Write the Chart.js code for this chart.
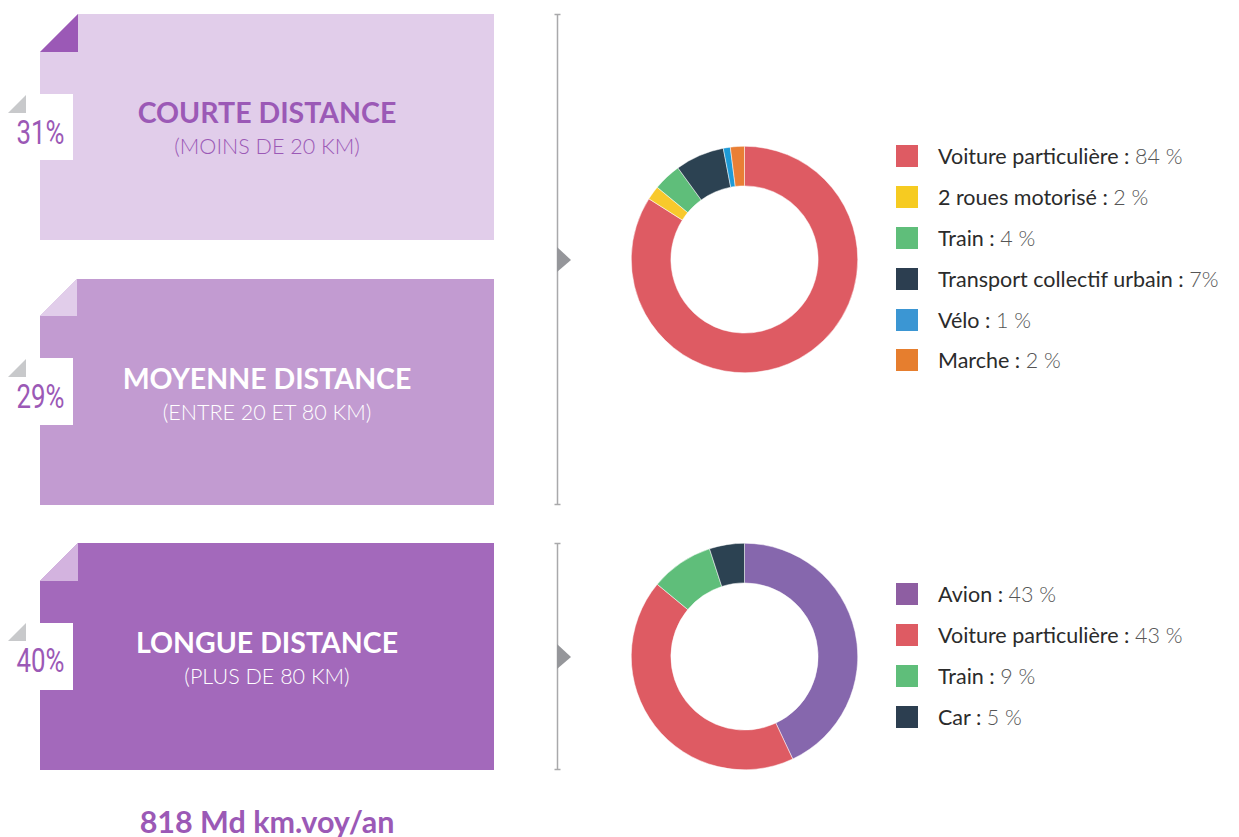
<!DOCTYPE html>
<html>
<head>
<meta charset="utf-8">
<script src="https://cdn.jsdelivr.net/npm/chart.js@4/dist/chart.umd.min.js"></script>
<style>
  html, body { margin: 0; padding: 0; background: #fff; }
  body { width: 1239px; height: 837px; position: relative; overflow: hidden; font-family: Lato, "Open Sans", sans-serif; }
  svg.deco { position: absolute; left: 0; top: 0; }
  .title { position: absolute; left: 40px; width: 454px; text-align: center; }
  .title .big { font-weight: 700; font-size: 28.5px; line-height: 32px; }
  .title .small { font-weight: 300; font-size: 21.5px; line-height: 36px; }
  .pct { position: absolute; left: 8px; width: 65px; text-align: center; color: #9b59b6;
         font-family: Roboto, sans-serif; font-weight: 400; font-size: 34px; line-height: 40px; }
  .pct span { display: inline-block; transform: scaleX(0.76); }
  .donut { position: absolute; }
  .legend { position: absolute; left: 896px; }
  .legend .row { display: flex; align-items: center; height: 40.8px; }
  .legend .sw { width: 22px; height: 22px; margin-right: 20px; }
  .legend .lab { font-size: 21.5px; color: #2b2b2b; }
  .legend .val { font-size: 21.5px; color: #555; font-weight: 300; }
  .total { position: absolute; left: 40px; width: 454px; top: 803px; text-align: center;
           color: #9b59b6; font-weight: 700; font-size: 30.5px; }
</style>
</head>
<body>
<svg class="deco" width="1239" height="837">
  <!-- courte distance -->
  <polygon points="78,14 494,14 494,240 40,240 40,52" fill="#e1cdea"/>
  <polygon points="40,52 78,14 78,52" fill="#9b59b6"/>
  <rect x="8" y="94" width="65" height="66" fill="#fff"/>
  <polygon points="8,113 26,95 26,113" fill="#c8c9cb"/>
  <!-- moyenne distance -->
  <polygon points="77,279 494,279 494,505 40,505 40,316" fill="#c29bd1"/>
  <polygon points="40,316 77,279 77,316" fill="#e1cdea"/>
  <rect x="8" y="358" width="65" height="67" fill="#fff"/>
  <polygon points="8,377 26,359 26,377" fill="#c8c9cb"/>
  <!-- longue distance -->
  <polygon points="78,543 494,543 494,770 40,770 40,581" fill="#a369bb"/>
  <polygon points="40,581 78,543 78,581" fill="#d3b3df"/>
  <rect x="8" y="623" width="65" height="67" fill="#fff"/>
  <polygon points="8,641 26,623 26,641" fill="#c8c9cb"/>
  <!-- brackets -->
  <g stroke="#a9a9ab" stroke-width="1.5">
    <line x1="557.5" y1="14.5" x2="557.5" y2="504.5"/>
    <line x1="554.5" y1="14.5" x2="560.5" y2="14.5"/>
    <line x1="554.5" y1="504.5" x2="560.5" y2="504.5"/>
    <line x1="557.5" y1="543.5" x2="557.5" y2="769.5"/>
    <line x1="554.5" y1="543.5" x2="560.5" y2="543.5"/>
    <line x1="554.5" y1="769.5" x2="560.5" y2="769.5"/>
  </g>
  <polygon points="557,247 571,260 557,272" fill="#95969a"/>
  <polygon points="557,644 571,657 557,669" fill="#95969a"/>
</svg>

<div class="title" style="top:96px;color:#9b59b6"><div class="big">COURTE DISTANCE</div><div class="small">(MOINS DE 20 KM)</div></div>
<div class="title" style="top:362px;color:#fff"><div class="big">MOYENNE DISTANCE</div><div class="small">(ENTRE 20 ET 80 KM)</div></div>
<div class="title" style="top:626px;color:#fff"><div class="big">LONGUE DISTANCE</div><div class="small">(PLUS DE 80 KM)</div></div>

<div class="pct" style="top:112px"><span id="p0"></span></div>
<div class="pct" style="top:376px"><span id="p1"></span></div>
<div class="pct" style="top:640px"><span id="p2"></span></div>

<canvas id="shortChart" class="donut" style="left:631px;top:146px"></canvas>
<canvas id="longChart" class="donut" style="left:631px;top:543px"></canvas>

<div id="shortLegend" class="legend" style="top:136px"></div>
<div id="longLegend" class="legend" style="top:574px"></div>

<div class="total">818 Md km.voy/an</div>

<script>
// parts of trips by distance
const distanceShares = [31, 29, 40];

// Courte + moyenne distance
const shortLabels = ['Voiture particulière', '2 roues motorisé', 'Train', 'Transport collectif urbain', 'Vélo', 'Marche'];
const shortValues = [84, 2, 4, 7, 1, 2];
const shortValueText = ['84 %', '2 %', '4 %', '7%', '1 %', '2 %'];
const shortColors = ['#de5b63', '#f8c92c', '#5fbe7a', '#2c4252', '#1e9ad6', '#e97f35'];
const shortLegendColors = ['#de5b63', '#f6cb21', '#5fbe7a', '#2c3e50', '#3b96d3', '#e67e2e'];

// Longue distance
const longLabels = ['Avion', 'Voiture particulière', 'Train', 'Car'];
const longValues = [43, 43, 9, 5];
const longValueText = ['43 %', '43 %', '9 %', '5 %'];
const longColors = ['#8667ad', '#de5b63', '#5fbe7a', '#2c4252'];
const longLegendColors = ['#8e5ea2', '#de5b63', '#5fbe7a', '#2c3e50'];

distanceShares.forEach((v, i) => {
    document.getElementById('p' + i).textContent = v + '%';
});

function makeDonut(id, labels, values, colors) {
    const canvas = document.getElementById(id);
    canvas.width = 227;
    canvas.height = 227;
    return new Chart(canvas.getContext('2d'), {
        type: 'doughnut',
        data: {
            labels: labels,
            datasets: [{
                data: values,
                backgroundColor: colors,
                borderColor: '#fff',
                borderWidth: 0.5,
            }]
        },
        options: {
            responsive: false,
            animation: false,
            cutout: '65%',
            layout: { padding: 0 },
            plugins: {
                legend: { display: false },
                tooltip: { enabled: false },
            }
        }
    });
}

function makeLegend(id, labels, valueText, colors) {
    const box = document.getElementById(id);
    labels.forEach((lab, i) => {
        const row = document.createElement('div');
        row.className = 'row';
        row.innerHTML = '<div class="sw" style="background:' + colors[i] + '"></div>' +
            '<span class="lab">' + lab + '&nbsp;:&nbsp;</span><span class="val">' + valueText[i] + '</span>';
        box.appendChild(row);
    });
}

makeDonut('shortChart', shortLabels, shortValues, shortColors);
makeDonut('longChart', longLabels, longValues, longColors);
makeLegend('shortLegend', shortLabels, shortValueText, shortLegendColors);
makeLegend('longLegend', longLabels, longValueText, longLegendColors);
</script>
</body>
</html>
